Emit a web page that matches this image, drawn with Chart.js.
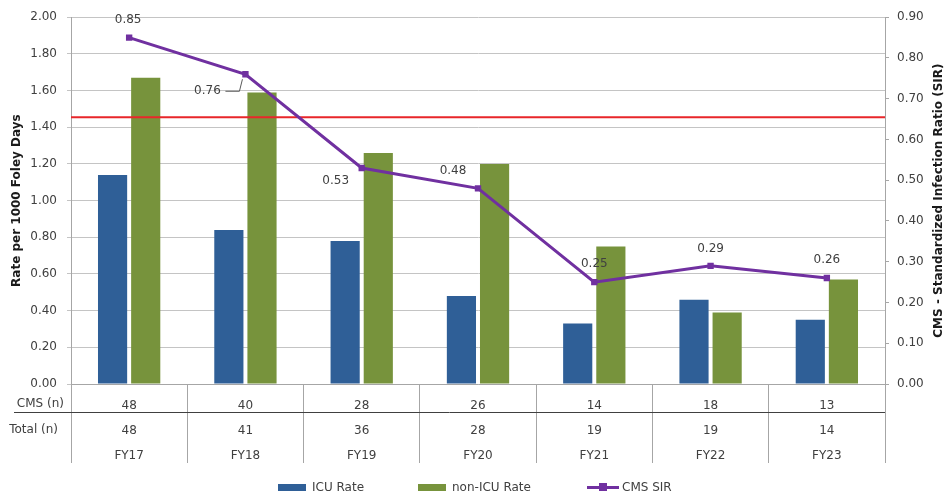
<!DOCTYPE html>
<html>
<head>
<meta charset="utf-8">
<script src="https://cdn.jsdelivr.net/npm/chart.js@4.4.1/dist/chart.umd.min.js"></script>
<style>
  html, body { margin: 0; padding: 0; background: #fff; }
  #wrap { position: relative; width: 946px; height: 496px; }
  #legend {
    position: absolute; left: 278px; top: 480px;
    display: flex; align-items: center;
    font: 12px "DejaVu Sans", sans-serif; color: #404040;
  }
  .item { display: flex; align-items: center; }
  .swatch { width: 28px; height: 7px; margin-right: 6px; }
  .sir { position: relative; width: 32px; height: 3px; background: #7030a0; margin-right: 3px; }
  .sir::after { content: ""; position: absolute; left: 12px; top: -3px; width: 8px; height: 8px; background: #7030a0; }
</style>
</head>
<body>
<div id="wrap">
  <canvas id="chart" width="946" height="496"></canvas>
  <div id="legend"></div>
</div>
<script>
const years = ["FY17", "FY18", "FY19", "FY20", "FY21", "FY22", "FY23"];
const cmsCounts = ["48", "40", "28", "26", "14", "18", "13"];
const totalCounts = ["48", "41", "36", "28", "19", "19", "14"];
const icuRate = [1.14, 0.84, 0.78, 0.48, 0.33, 0.46, 0.35];
const nonIcuRate = [1.67, 1.59, 1.26, 1.20, 0.75, 0.39, 0.57];
const cmsSir = [0.85, 0.76, 0.53, 0.48, 0.25, 0.29, 0.26];
const sirLabels = ["0.85", "0.76", "0.53", "0.48", "0.25", "0.29", "0.26"];
const targetRate = 1.455;
const rateTicks = [0, 0.2, 0.4, 0.6, 0.8, 1.0, 1.2, 1.4, 1.6, 1.8, 2.0];
const sirTicks = [0, 0.1, 0.2, 0.3, 0.4, 0.5, 0.6, 0.7, 0.8, 0.9];

const colors = {
  icu: "#2f5f97",
  nonIcu: "#77933c",
  sir: "#7030a0",
  target: "#e8262a",
  text: "#404040",
  grid: "#c4c4c4",
  axis: "#a6a6a6"
};
const font = { family: "DejaVu Sans", size: 12 };

// offsets for the SIR value labels, relative to each point
const labelOffsets = [[-1, -18], [-38, 17], [-26, 13], [-25, -17], [0, -18], [0, -17], [0, -18]];

const overlay = {
  id: "overlay",
  beforeDatasetDraw(chart, args) {
    if (args.index !== 2) return;
    const { ctx, chartArea } = chart;
    const y = chart.scales.y.getPixelForValue(targetRate);
    ctx.save();
    ctx.strokeStyle = colors.target;
    ctx.lineWidth = 2;
    ctx.beginPath();
    ctx.moveTo(chartArea.left, y);
    ctx.lineTo(chartArea.right, y);
    ctx.stroke();
    ctx.restore();
  },
  afterDraw(chart) {
    const { ctx, chartArea } = chart;
    const meta = chart.getDatasetMeta(2);
    ctx.save();
    ctx.fillStyle = colors.text;
    ctx.font = `12px "DejaVu Sans"`;
    ctx.textAlign = "center";
    ctx.textBaseline = "middle";
    meta.data.forEach((pt, i) => {
      const [dx, dy] = labelOffsets[i];
      ctx.fillText(sirLabels[i], pt.x + dx, pt.y + dy);
    });
    // leader for the FY18 label
    const p = meta.data[1];
    ctx.strokeStyle = "#595959";
    ctx.lineWidth = 1;
    ctx.beginPath();
    ctx.moveTo(p.x - 20, p.y + 17);
    ctx.lineTo(p.x - 6, p.y + 17);
    ctx.lineTo(p.x - 3, p.y + 5);
    ctx.stroke();

    // table row headers and separator
    ctx.textAlign = "right";
    ctx.fillText("CMS (n)", 64, 404);
    ctx.fillText("Total (n)", 58, 430);
    ctx.strokeStyle = "#404040";
    ctx.beginPath();
    ctx.moveTo(14, 412.5);
    ctx.lineTo(chartArea.right, 412.5);
    ctx.stroke();

    // axis titles
    ctx.font = `bold 12px "DejaVu Sans"`;
    ctx.fillStyle = "#1a1a1a";
    ctx.textAlign = "center";
    const midY = (chartArea.top + chartArea.bottom) / 2;
    ctx.translate(17, midY);
    ctx.rotate(-Math.PI / 2);
    ctx.fillText("Rate per 1000 Foley Days", 0, 0);
    ctx.rotate(Math.PI / 2);
    ctx.translate(-17, -midY);
    ctx.translate(939, midY);
    ctx.rotate(-Math.PI / 2);
    ctx.fillText("CMS - Standardized Infection Ratio (SIR)", 0, 0);
    ctx.restore();
  }
};

new Chart(document.getElementById("chart"), {
  type: "bar",
  data: {
    labels: years.map((y, i) => [cmsCounts[i], totalCounts[i], y]),
    datasets: [
      {
        label: "ICU Rate",
        data: icuRate,
        backgroundColor: colors.icu,
        categoryPercentage: 0.57,
        barPercentage: 0.88,
        yAxisID: "y",
        order: 2
      },
      {
        label: "non-ICU Rate",
        data: nonIcuRate,
        backgroundColor: colors.nonIcu,
        categoryPercentage: 0.57,
        barPercentage: 0.88,
        yAxisID: "y",
        order: 2
      },
      {
        type: "line",
        label: "CMS SIR",
        data: cmsSir,
        borderColor: colors.sir,
        backgroundColor: colors.sir,
        borderWidth: 3,
        pointStyle: "rect",
        pointRadius: 4.5,
        pointBorderWidth: 0,
        yAxisID: "y1",
        order: 0
      }
    ]
  },
  options: {
    responsive: false,
    animation: false,
    layout: { padding: { top: 17, bottom: 20, left: 0, right: 0 } },
    plugins: {
      legend: { display: false },
      tooltip: { enabled: false }
    },
    scales: {
      x: {
        offset: true,
        grid: {
          offset: true,
          drawOnChartArea: false,
          tickLength: 79,
          color: colors.axis
        },
        border: { color: colors.axis },
        ticks: {
          color: colors.text,
          font: { ...font, lineHeight: 2.1 },
          padding: -70,
          autoSkip: false,
          maxRotation: 0
        },
        afterFit: scale => { scale.height = 92; }
      },
      y: {
        position: "left",
        min: 0,
        max: 2,
        afterBuildTicks: scale => { scale.ticks = rateTicks.map(value => ({ value })); },
        grid: { color: colors.grid, tickLength: 4 },
        border: { color: colors.axis },
        ticks: {
          color: colors.text,
          font,
          padding: 10,
          callback: value => value.toFixed(2)
        },
        afterFit: scale => { scale.width = 71; }
      },
      y1: {
        position: "right",
        min: 0,
        max: 0.9,
        afterBuildTicks: scale => { scale.ticks = sirTicks.map(value => ({ value })); },
        grid: { drawOnChartArea: false, color: colors.axis, tickLength: 4 },
        border: { color: colors.axis },
        ticks: {
          color: colors.text,
          font,
          padding: 8,
          callback: value => value.toFixed(2)
        },
        afterFit: scale => { scale.width = 61; }
      }
    }
  },
  plugins: [overlay]
});

document.getElementById("legend").innerHTML = `
  <div class="item" style="width:140px"><span class="swatch" style="background:${colors.icu}"></span>ICU Rate</div>
  <div class="item" style="width:169px"><span class="swatch" style="background:${colors.nonIcu}"></span>non-ICU Rate</div>
  <div class="item"><span class="sir"></span>CMS SIR</div>
`;
</script>
</body>
</html>
